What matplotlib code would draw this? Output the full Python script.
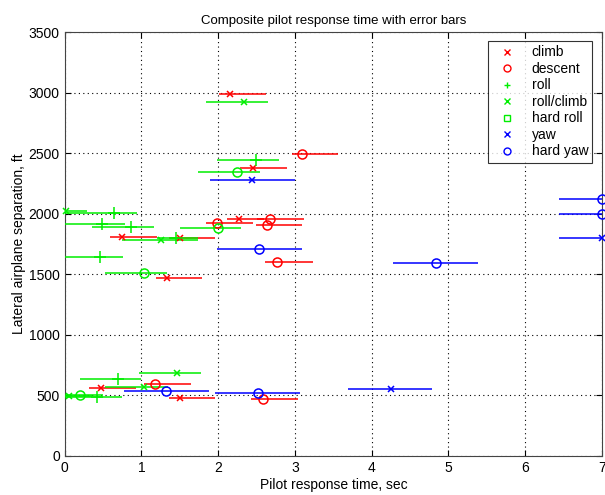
import numpy as np
import matplotlib
matplotlib.use('Agg')
import matplotlib.pyplot as plt
from matplotlib.lines import Line2D

plt.rcParams['font.family'] = ['Liberation Sans', 'DejaVu Sans']

# DATA: centre, left end and right end of each error bar, lateral separation (ft)
climb_x = [2.15, 2.45, 2.27, 0.74, 1.50, 1.33, 0.47, 1.50]
climb_y = [2990, 2380, 1958, 1804, 1800, 1469, 560, 475]
climb_lo = [2.01, 2.29, 2.12, 0.59, 1.36, 1.19, 0.32, 1.36]
climb_hi = [2.62, 2.90, 2.60, 1.20, 1.96, 1.79, 0.93, 1.96]

descent_x = [3.09, 2.67, 1.99, 2.63, 2.77, 1.17, 2.58]
descent_y = [2497, 1953, 1920, 1906, 1601, 591, 467]
descent_lo = [2.96, 2.51, 1.84, 2.49, 2.61, 1.03, 2.43]
descent_hi = [3.56, 3.12, 2.45, 3.09, 3.23, 1.64, 3.04]

roll_x = [2.49, 0.64, 0.49, 0.86, 1.45, 0.46, 0.70, 0.42]
roll_y = [2442, 2008, 1917, 1889, 1796, 1640, 635, 490]
roll_lo = [1.98, 0.0, 0.0, 0.36, 1.20, 0.0, 0.20, 0.0]
roll_hi = [2.79, 0.94, 0.78, 1.16, 1.73, 0.76, 1.00, 0.75]

rollclimb_x = [2.34, 0.01, 1.25, 1.46, 1.03, 0.05]
rollclimb_y = [2921, 2021, 1782, 682, 569, 495]
rollclimb_lo = [1.84, 0.0, 0.75, 0.97, 0.52, 0.0]
rollclimb_hi = [2.65, 0.29, 1.73, 1.77, 1.35, 0.35]

hardroll_x = [2.24, 2.00, 1.03, 0.20]
hardroll_y = [2341, 1879, 1513, 500]
hardroll_lo = [1.73, 1.50, 0.53, 0.0]
hardroll_hi = [2.54, 2.30, 1.33, 0.50]

yaw_x = [2.44, 4.25, 7.0]
yaw_y = [2277, 550, 1801]
yaw_lo = [1.89, 3.69, 6.44]
yaw_hi = [3.00, 4.79, 7.0]

hardyaw_x = [2.53, 4.84, 2.52, 1.32, 7.0, 7.0]
hardyaw_y = [1711, 1595, 517, 539, 2123, 1999]
hardyaw_lo = [1.99, 4.28, 1.96, 0.77, 6.44, 6.44]
hardyaw_hi = [3.09, 5.39, 3.06, 1.88, 7.0, 7.0]

RED, GREEN, BLUE = '#ff0000', '#00ee00', '#0000ff'

series = [
    ('climb', climb_x, climb_y, climb_lo, climb_hi, RED, 'x', 4.5),
    ('descent', descent_x, descent_y, descent_lo, descent_hi, RED, 'o', 6.5),
    ('roll', roll_x, roll_y, roll_lo, roll_hi, GREEN, '+', 9),
    ('roll/climb', rollclimb_x, rollclimb_y, rollclimb_lo, rollclimb_hi, GREEN, 'x', 4.5),
    ('hard roll', hardroll_x, hardroll_y, hardroll_lo, hardroll_hi, GREEN, 'o', 6.5),
    ('yaw', yaw_x, yaw_y, yaw_lo, yaw_hi, BLUE, 'x', 4.5),
    ('hard yaw', hardyaw_x, hardyaw_y, hardyaw_lo, hardyaw_hi, BLUE, 'o', 6.5),
]
legend_markers = ['x', 'o', '+', 'x', 's', 'x', 'o']

fig = plt.figure(figsize=(6.05, 4.95), dpi=100)
ax = fig.add_axes([0.107, 0.079, 0.888, 0.856])

for name, x, y, lo, hi, col, mk, ms in series:
    x = np.array(x)
    xerr = [x - np.array(lo), np.array(hi) - x]
    ax.errorbar(x, y, xerr=xerr, fmt='none', ecolor=col, elinewidth=1.1,
                capsize=0, zorder=3)
    ax.plot(x, y, linestyle='none', marker=mk, color=col, ms=ms,
            mfc='none', mew=1.1, zorder=4, clip_on=False)

ax.set_xlim(0, 7)
ax.set_ylim(0, 3500)
ax.set_xticks(range(0, 8))
ax.set_yticks(range(0, 3501, 500))
ax.grid(True, color='black', linestyle=(0, (1, 3)), linewidth=0.8)
ax.set_axisbelow(True)
ax.tick_params(direction='in', top=True, right=True, labelsize=10, length=4)
for s in ax.spines.values():
    s.set_color('#444444')

ax.set_title('Composite pilot response time with error bars', fontsize=9.5)
ax.set_xlabel('Pilot response time, sec', fontsize=10, labelpad=2)
ax.set_ylabel('Lateral airplane separation, ft', fontsize=10, labelpad=2)

handles = [Line2D([], [], linestyle='none', marker=m, color=s[5], mfc='none',
                  ms=5, mew=1.0) for m, s in zip(legend_markers, series)]
labels = [s[0] for s in series]
leg = ax.legend(handles, labels, loc='upper right', fontsize=10, frameon=True,
                fancybox=False, borderpad=0.3, labelspacing=0.18,
                handletextpad=0.8, handlelength=2.0,
                bbox_to_anchor=(0.995, 0.995))
leg.get_frame().set_edgecolor('black')
leg.get_frame().set_linewidth(0.8)

fig.savefig('out.png', dpi=100)
